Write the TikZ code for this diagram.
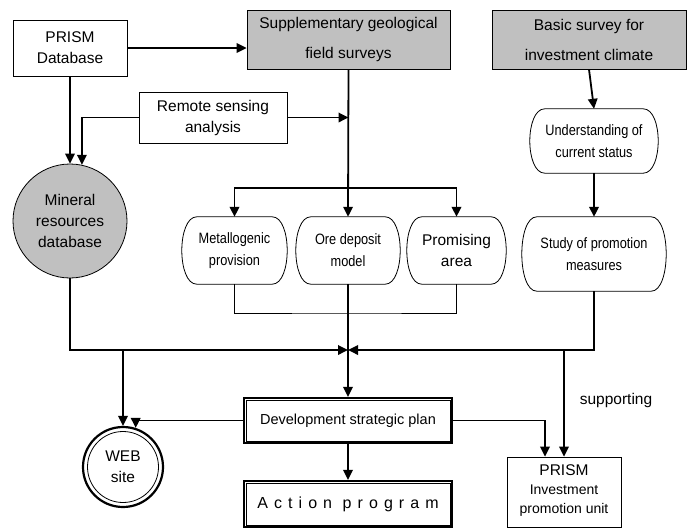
\documentclass[tikz,border=0pt]{standalone}
\usepackage{fontspec}
\setmainfont{Liberation Sans}
\newfontfamily\narrowfont[FakeStretch=0.85]{Liberation Sans}
\usetikzlibrary{arrows.meta,calc}
\definecolor{panelgray}{RGB}{192,192,192}

\begin{document}
\begin{tikzpicture}[x=1pt,y=-1pt,
  font=\fontsize{15.5}{21}\selectfont,
  every node/.style={align=center, inner sep=0pt},
  arr/.style={line width=1.8pt, -{Triangle[length=10pt,width=9.5pt]}},
  thinlink/.style={line width=0.8pt},
  plainbox/.style={draw, line width=0.8pt, fill=white, rectangle},
  graybox/.style={draw, line width=0.8pt, fill=panelgray, rectangle},
  stadium/.style={rectangle, font=\narrowfont\fontsize{15}{22}\selectfont},
  outline/.style={line width=0.8pt},
  framebox/.style={draw, line width=2.2pt, rectangle, fill=white},
  innerframe/.style={line width=0.8pt}
]
\path[use as bounding box] (0,0) rectangle (688,528);

% top row
\node[plainbox, minimum width=114pt, minimum height=56pt] (prismdb) at (70,48) {PRISM\\Database};
\node[graybox, minimum width=203pt, minimum height=59pt, font=\fontsize{15.5}{30}\selectfont]
  (supp) at (348.5,39.5) {Supplementary geological\\field surveys};
\node[graybox, minimum width=194pt, minimum height=59pt, font=\fontsize{15.5}{30}\selectfont]
  (basic) at (589,39.5) {Basic survey for\\investment climate};

\node[plainbox, minimum width=148pt, minimum height=51pt] (remote) at (213,117.5) {Remote sensing\\analysis};

% databases and studies
\node[draw, circle, line width=0.8pt, fill=panelgray, minimum size=114pt] (mineral) at (70,221)
  {Mineral\\resources\\database};

\node[stadium, minimum width=105pt, minimum height=67pt] (metal) at (234.5,250.5) {Metallogenic\\provision};
\node[stadium, minimum width=104pt, minimum height=67pt] (ore) at (348,250.5) {Ore deposit\\model};
\node[stadium, minimum width=99pt, minimum height=67pt, font=\fontsize{15.5}{21}\selectfont]
  (prom) at (456.5,250.5) {Promising\\area};

\node[stadium, minimum width=128pt, minimum height=64pt] (under) at (594,141) {Understanding of\\current status};
\node[stadium, minimum width=144pt, minimum height=74pt] (study) at (594,254) {Study of promotion\\measures};

% terminal outlines: flat top and bottom, bulging sides
\foreach \n in {metal,ore,prom,under,study}
  \draw[outline]
    ([xshift=15pt]\n.north west) -- ([xshift=-15pt]\n.north east)
    .. controls ([xshift=5pt]\n.north east) and ([xshift=5pt]\n.south east) .. ([xshift=-15pt]\n.south east)
    -- ([xshift=15pt]\n.south west)
    .. controls ([xshift=-5pt]\n.south west) and ([xshift=-5pt]\n.north west) .. cycle;

% outputs
\node[framebox, minimum width=208pt, minimum height=45pt, font=\fontsize{14.5}{18}\selectfont]
  (dev) at (348,420.5) {Development strategic plan};
\node[framebox, minimum width=208pt, minimum height=46pt,
  font=\fontsize{16}{20}\selectfont\addfontfeature{LetterSpace=38}]
  (action) at (348,504) {Action program};
\foreach \n in {dev,action}
  \draw[innerframe] ([shift={(3pt,-3pt)}]\n.north west) rectangle ([shift={(-3pt,3pt)}]\n.south east);

\node[draw, circle, line width=2.2pt, fill=white, minimum size=80pt] (web) at (123,467) {WEB\\site};
\draw[innerframe] (web.center) circle[radius=35.5pt];

\node[plainbox, minimum width=114pt, minimum height=70pt] (prisminv) at (564,492) {};
\node (prismlbl) at (564,470) {PRISM};
\node[font=\fontsize{14}{19}\selectfont] (invlbl) at (564,501) {Investment\\promotion unit};

\node (supporting) at (616,400) {supporting};

% junction points
\coordinate (branch) at (348,188);
\coordinate (low) at (348,313);
\coordinate (join) at (348,350);

% connectors
\draw[arr] (prismdb.east) -- (prismdb.east -| supp.west);
\draw[arr] (prismdb.south) -- (mineral.north);
\draw[arr] (remote.west) -| (mineral.78);
\draw[arr] (remote.east) -- (remote.east -| supp.south);
\draw[arr] (supp.south) -- (ore.north);
\draw[arr] (branch) -| (metal.north);
\draw[arr] (branch) -| (prom.north);
\draw[thinlink] (metal.south) |- (low) -| (prom.south);
\draw[arr] (ore.south) -- (dev.north);

\draw[arr] (basic.south) -- (under.north);
\draw[arr] (under.south) -- (study.north);

\draw[arr] (mineral.south) |- (join);
\draw[arr] (study.south) |- (join);
\draw[arr] (web.north |- join) -- (web.north);
\draw[arr] (prisminv.north |- join) -- (prisminv.north);

\draw[arr] (dev.west) -| (web.72);
\draw[arr] (dev.east) -| ([xshift=-19pt]prisminv.north);
\draw[arr] (dev.south) -- (action.north);
\end{tikzpicture}
\end{document}
